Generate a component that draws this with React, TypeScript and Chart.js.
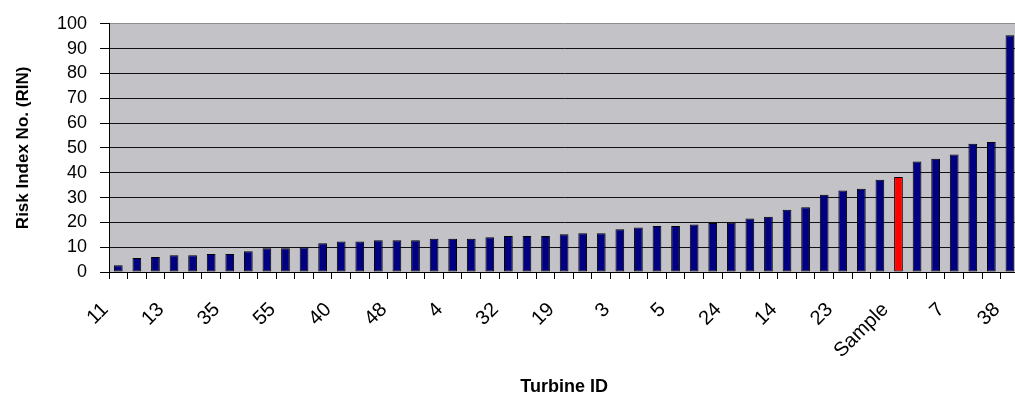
import { useEffect, useRef } from 'react';
import { Chart, registerables } from 'chart.js';

Chart.register(...registerables);

// Turbine IDs printed under every third bar (the others are left unlabeled)
const shownIds = ['11', '13', '35', '55', '40', '48', '4', '32', '19', '3', '5', '24', '14', '23', 'Sample', '7', '38'];
const labelStep = 3;
const highlightId = 'Sample';

// Risk Index No. per turbine, sorted ascending
const rinValues = [
  2.7, 5.6, 6.0, 6.7, 6.7, 7.3, 7.3, 8.4, 9.6, 9.6,
  9.9, 11.6, 12.3, 12.3, 12.8, 12.8, 12.8, 13.4, 13.4, 13.4,
  14.0, 14.5, 14.5, 14.5, 15.2, 15.6, 15.6, 17.2, 17.9, 18.5,
  18.5, 19.1, 19.7, 19.8, 21.6, 22.3, 25.1, 26.1, 31.1, 32.8,
  33.5, 37.2, 38.3, 44.5, 45.6, 47.3, 51.7, 52.4, 95.4,
];

const yMin = 0;
const yMax = 100;
const yStep = 10;

const categories = rinValues.map((_, i) => (i % labelStep === 0 ? shownIds[i / labelStep] : ''));

const FONT = "'Liberation Sans', Arial, sans-serif";

const plotBackground = {
  id: 'plotBackground',
  beforeDraw(chart: any) {
    const { ctx, chartArea: a } = chart;
    ctx.save();
    ctx.fillStyle = '#c3c2c6';
    ctx.fillRect(a.left, a.top, a.right - a.left, a.bottom - a.top);
    ctx.restore();
  },
};

export default function App() {
  const canvasRef = useRef<HTMLCanvasElement | null>(null);

  useEffect(() => {
    const canvas = canvasRef.current;
    if (!canvas) return;
    const sampleIndex = categories.indexOf(highlightId);
    const chart = new Chart(canvas, {
      type: 'bar',
      data: {
        labels: categories,
        datasets: [
          {
            data: rinValues,
            backgroundColor: rinValues.map((_, i) => (i === sampleIndex ? '#ff0000' : '#000080')),
            borderColor: '#000000',
            borderWidth: 1,
            borderSkipped: false,
            barPercentage: 0.47,
            categoryPercentage: 1,
          },
        ],
      },
      options: {
        animation: false,
        responsive: true,
        maintainAspectRatio: false,
        devicePixelRatio: 1,
        layout: { padding: { left: 0, top: 22, right: 10, bottom: 0 } },
        plugins: {
          legend: { display: false },
          tooltip: { enabled: false },
        },
        scales: {
          x: {
            offset: true,
            grid: {
              offset: true,
              drawOnChartArea: false,
              drawTicks: true,
              tickLength: 7,
              color: '#000000',
              lineWidth: 1,
            },
            border: { display: true, color: '#000000', width: 1 },
            ticks: {
              autoSkip: false,
              maxRotation: 45,
              minRotation: 45,
              padding: 19,
              labelOffset: -13,
              color: '#000000',
              font: { family: FONT, size: 20 },
            },
            title: {
              display: true,
              text: 'Turbine ID',
              color: '#000000',
              font: { family: FONT, size: 18, weight: 'bold' },
              padding: { top: 0, bottom: 0 },
            },
            afterFit(scale: any) {
              scale.height = 126;
            },
          },
          y: {
            min: yMin,
            max: yMax,
            ticks: {
              stepSize: yStep,
              padding: 13,
              color: '#000000',
              font: { family: FONT, size: 18 },
            },
            grid: {
              color: (ctx: any) => (ctx.tick && ctx.tick.value === yMax ? '#8e8e8e' : '#111111'),
              tickColor: '#000000',
              tickLength: 9,
              lineWidth: 1,
            },
            border: { display: true, color: '#000000', width: 1 },
            title: {
              display: true,
              text: 'Risk Index No. (RIN)',
              color: '#000000',
              font: { family: FONT, size: 17, weight: 'bold' },
              padding: { top: 13, bottom: 0 },
            },
            afterFit(scale: any) {
              scale.width = 109;
            },
          },
        },
      },
      plugins: [plotBackground],
    });
    return () => chart.destroy();
  }, []);

  return (
    <div style={{ position: 'absolute', left: 0, top: 0, width: 1015, height: 398, overflow: 'hidden', background: '#ffffff' }}>
      <div style={{ position: 'relative', width: 1046, height: 398 }}>
        <canvas ref={canvasRef} />
      </div>
    </div>
  );
}
